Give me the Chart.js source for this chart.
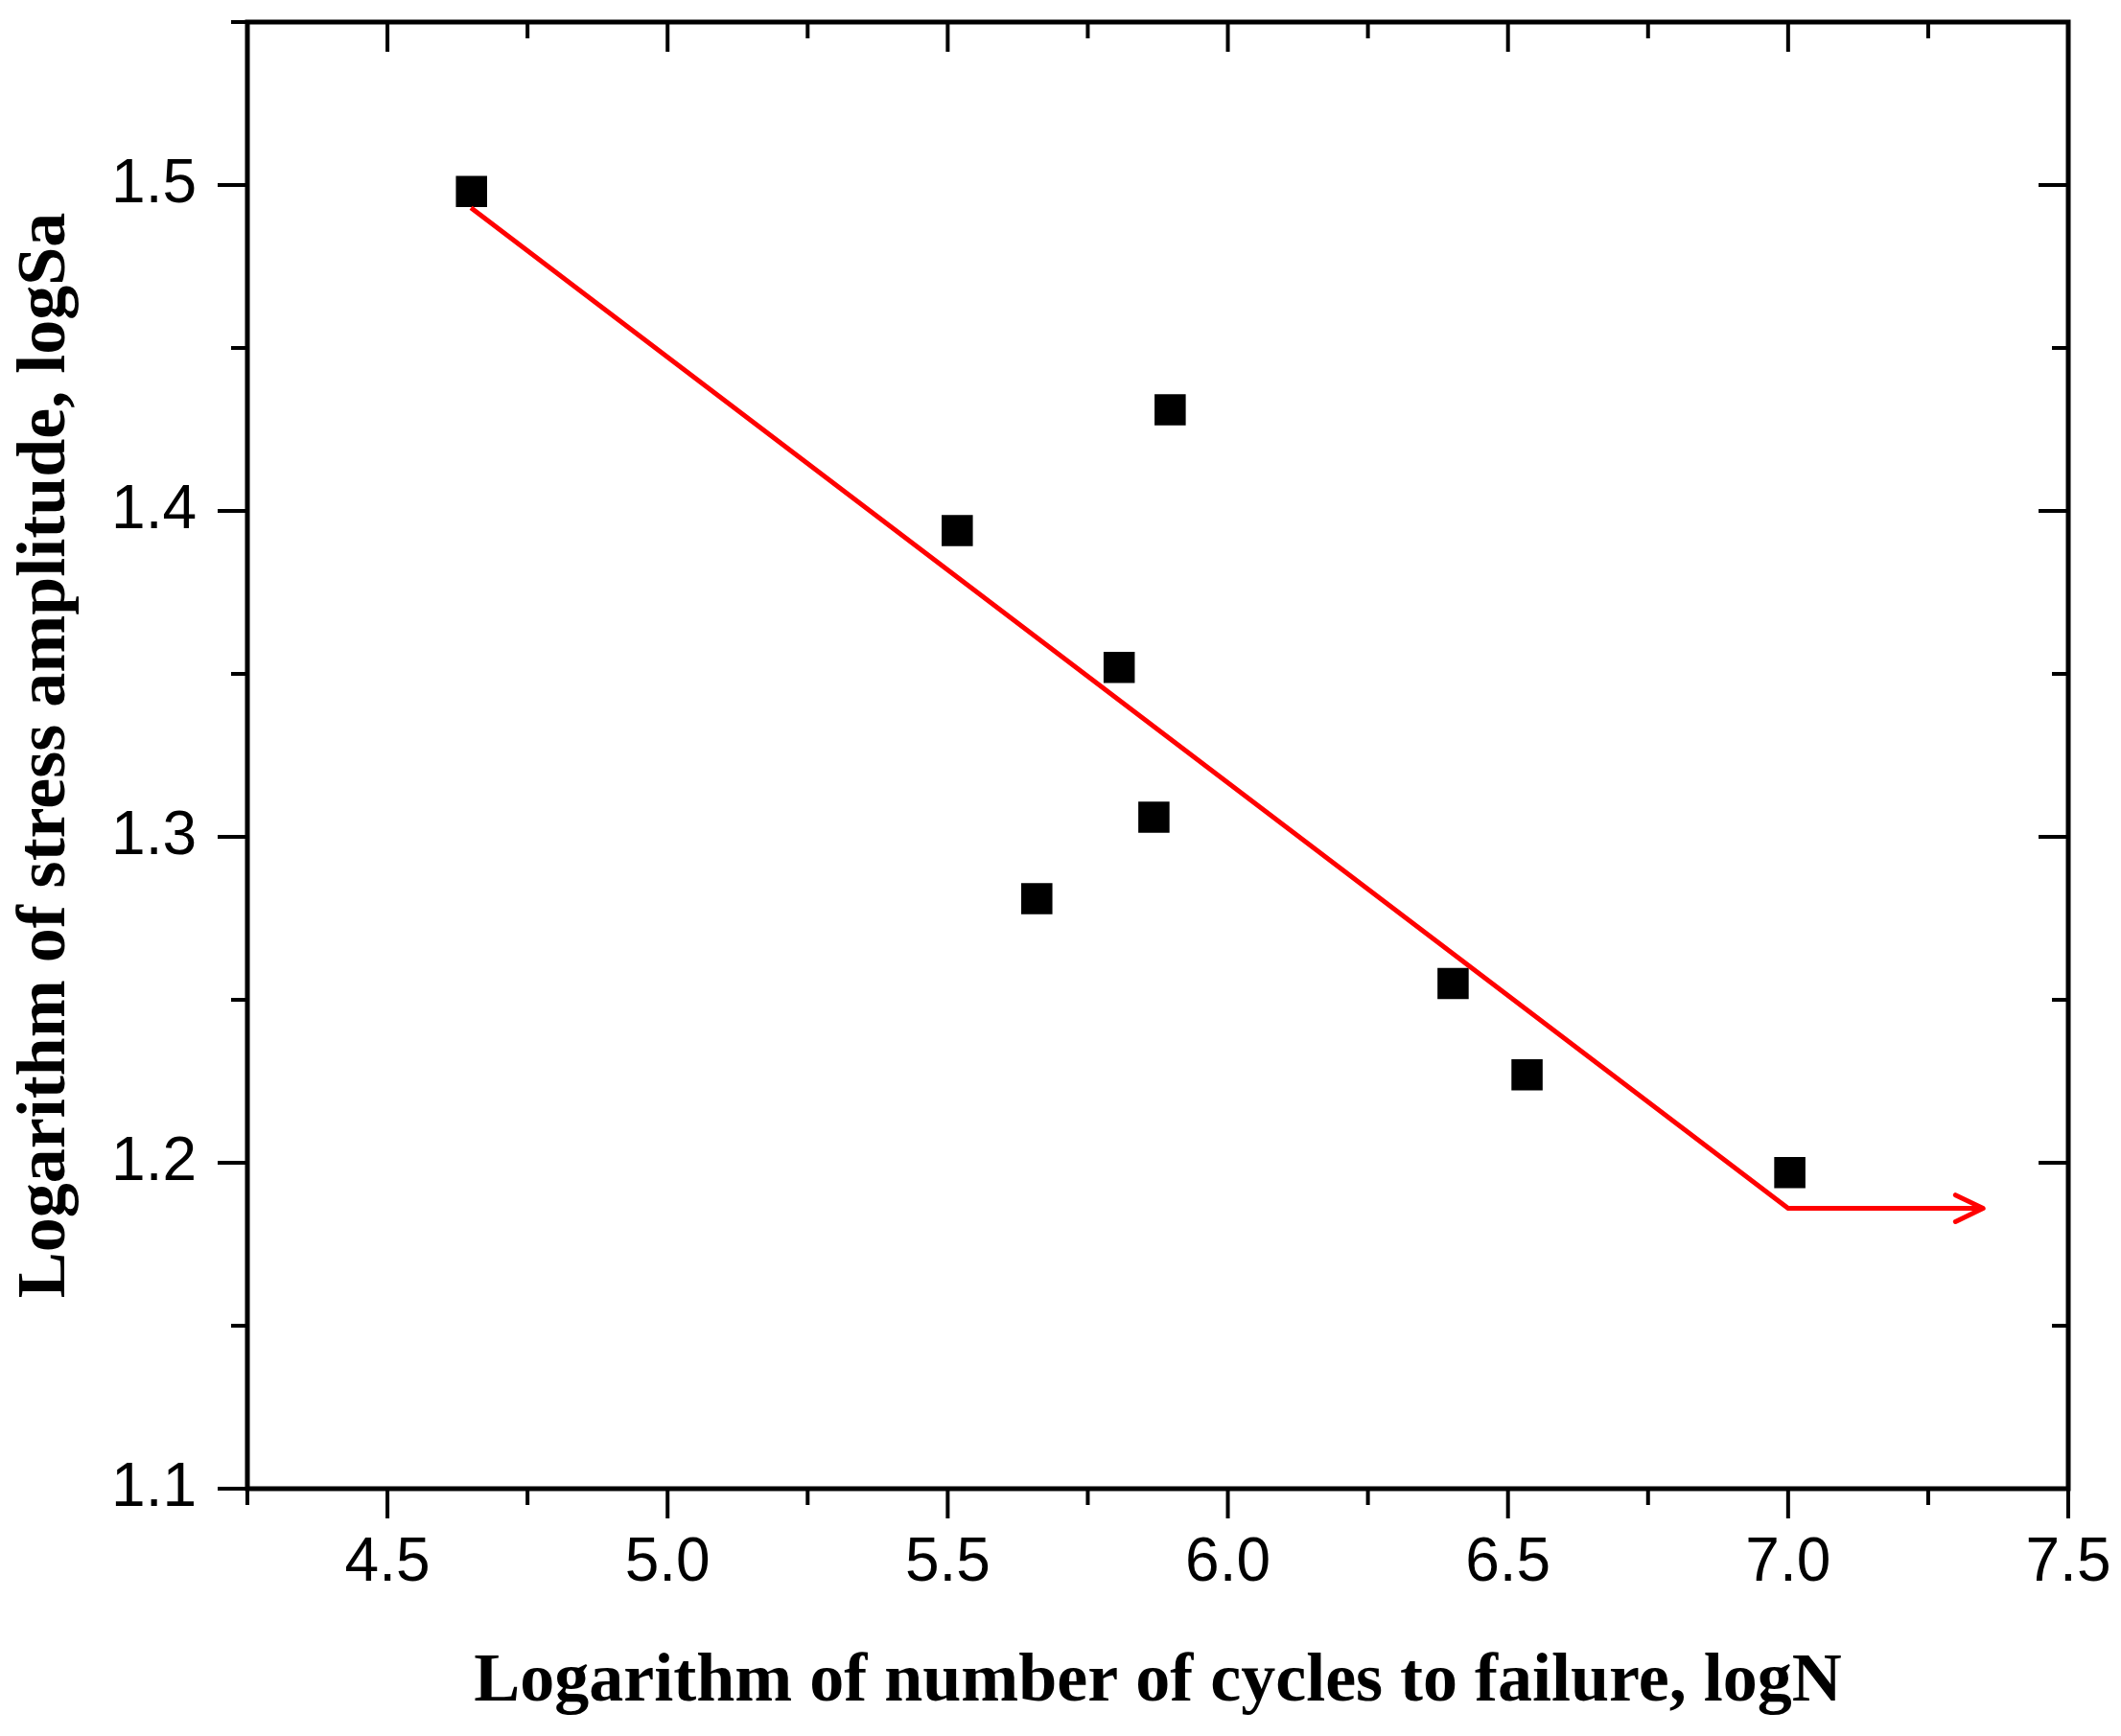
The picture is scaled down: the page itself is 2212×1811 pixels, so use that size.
<!DOCTYPE html>
<html>
<head>
<meta charset="utf-8">
<script src="https://cdn.jsdelivr.net/npm/chart.js@4.4.1/dist/chart.umd.min.js"></script>
<style>
  html, body { margin: 0; padding: 0; background: #fff; }
  #chart { display: block; }
</style>
</head>
<body>
<canvas id="chart" width="2212" height="1811"></canvas>
<script>
// measured points
const logN = [4.65, 5.517, 5.897, 5.806, 5.868, 5.659, 6.402, 6.534, 7.003];
const logSa = [1.498, 1.394, 1.431, 1.352, 1.306, 1.281, 1.255, 1.227, 1.197];

// fitted S-N line with the fatigue limit plateau
const fitN = [4.649, 7.0, 7.348];
const fitSa = [1.493, 1.186, 1.186];

// tick values
const xMajor = [4.5, 5.0, 5.5, 6.0, 6.5, 7.0, 7.5];
const xMinor = [4.25, 4.75, 5.25, 5.75, 6.25, 6.75, 7.25];
const yMajor = [1.1, 1.2, 1.3, 1.4, 1.5];
const yMinor = [1.15, 1.25, 1.35, 1.45, 1.55];

const majorLen = 31;
const minorLen = 17;

const framePlugin = {
    id: 'frame',
    afterDraw(chart) {
        const ctx = chart.ctx;
        const a = chart.chartArea;
        const x = chart.scales.x;
        const y = chart.scales.y;
        ctx.save();
        ctx.strokeStyle = '#000';
        ctx.lineCap = 'butt';
        ctx.lineWidth = 4;
        function seg(x1, y1, x2, y2) {
            ctx.beginPath();
            ctx.moveTo(x1, y1);
            ctx.lineTo(x2, y2);
            ctx.stroke();
        }
        function xTicks(values, len) {
            values.forEach(v => {
                const px = x.getPixelForValue(v);
                seg(px, a.bottom, px, a.bottom + len);   // outward, bottom
                seg(px, a.top, px, a.top + len);         // inward, top
            });
        }
        function yTicks(values, len) {
            values.forEach(v => {
                const py = y.getPixelForValue(v);
                seg(a.left - len, py, a.left, py);       // outward, left
                seg(a.right, py, a.right - len, py);     // inward, right
            });
        }
        xTicks(xMajor, majorLen);
        xTicks(xMinor, minorLen);
        yTicks(yMajor, majorLen);
        yTicks(yMinor, minorLen);

        ctx.lineWidth = 5;
        ctx.strokeRect(a.left, a.top, a.right - a.left, a.bottom - a.top);
        ctx.restore();
    }
};

const arrowPlugin = {
    id: 'arrow',
    afterDatasetsDraw(chart) {
        const meta = chart.getDatasetMeta(1);
        const pts = meta.data;
        if (pts.length < 2) return;
        const tip = pts[pts.length - 1];
        const prev = pts[pts.length - 2];
        const ang = Math.atan2(tip.y - prev.y, tip.x - prev.x);
        const len = 32;
        const spread = 0.45;
        const ctx = chart.ctx;
        ctx.save();
        ctx.strokeStyle = '#ff0000';
        ctx.lineWidth = 5;
        ctx.lineCap = 'round';
        ctx.lineJoin = 'round';
        ctx.beginPath();
        ctx.moveTo(tip.x - len * Math.cos(ang - spread), tip.y - len * Math.sin(ang - spread));
        ctx.lineTo(tip.x, tip.y);
        ctx.lineTo(tip.x - len * Math.cos(ang + spread), tip.y - len * Math.sin(ang + spread));
        ctx.stroke();
        ctx.restore();
    }
};

const tickFont = { family: '"Liberation Sans", Arial, sans-serif', size: 64 };
const titleFont = { family: '"Liberation Serif", "Times New Roman", serif', size: 72, weight: 'bold' };

new Chart(document.getElementById('chart').getContext('2d'), {
    data: {
        datasets: [
            {
                type: 'scatter',
                label: 'Test data',
                data: logN.map((n, i) => ({ x: n, y: logSa[i] })),
                pointStyle: 'rect',
                pointRadius: 23,
                pointBackgroundColor: '#000',
                pointBorderWidth: 0,
                order: 1
            },
            {
                type: 'line',
                label: 'Fit',
                data: fitN.map((n, i) => ({ x: n, y: fitSa[i] })),
                borderColor: '#ff0000',
                borderWidth: 5,
                borderJoinStyle: 'round',
                pointRadius: 0,
                fill: false,
                tension: 0,
                order: 0
            }
        ]
    },
    options: {
        responsive: false,
        animation: false,
        devicePixelRatio: 1,
        layout: { padding: { top: 21, right: 55, left: 0, bottom: 0 } },
        plugins: {
            legend: { display: false },
            tooltip: { enabled: false }
        },
        scales: {
            x: {
                type: 'linear',
                min: 4.25,
                max: 7.5,
                afterFit: s => { s.height = 258; s.paddingLeft = 0; s.paddingRight = 0; },
                afterBuildTicks: s => { s.ticks = xMajor.map(v => ({ value: v })); },
                grid: { display: true, drawOnChartArea: false, drawTicks: true, tickLength: majorLen, tickColor: 'rgba(0,0,0,0)' },
                border: { display: false },
                ticks: {
                    color: '#000',
                    font: tickFont,
                    padding: 9,
                    maxRotation: 0,
                    callback: v => Number(v).toFixed(1)
                },
                title: {
                    display: true,
                    text: 'Logarithm of number of cycles to failure, logN',
                    color: '#000',
                    font: titleFont,
                    padding: { top: 0, bottom: 12 }
                }
            },
            y: {
                type: 'linear',
                min: 1.1,
                max: 1.55,
                afterFit: s => { s.width = 258; s.paddingTop = 0; s.paddingBottom = 0; },
                afterBuildTicks: s => { s.ticks = yMajor.map(v => ({ value: v })); },
                grid: { display: true, drawOnChartArea: false, drawTicks: true, tickLength: majorLen, tickColor: 'rgba(0,0,0,0)' },
                border: { display: false },
                ticks: {
                    color: '#000',
                    font: tickFont,
                    padding: 22,
                    callback: v => Number(v).toFixed(1)
                },
                title: {
                    display: true,
                    text: 'Logarithm of stress amplitude, logSa',
                    color: '#000',
                    font: titleFont,
                    padding: { top: 5, bottom: 0 }
                }
            }
        }
    },
    plugins: [framePlugin, arrowPlugin]
});
</script>
</body>
</html>
